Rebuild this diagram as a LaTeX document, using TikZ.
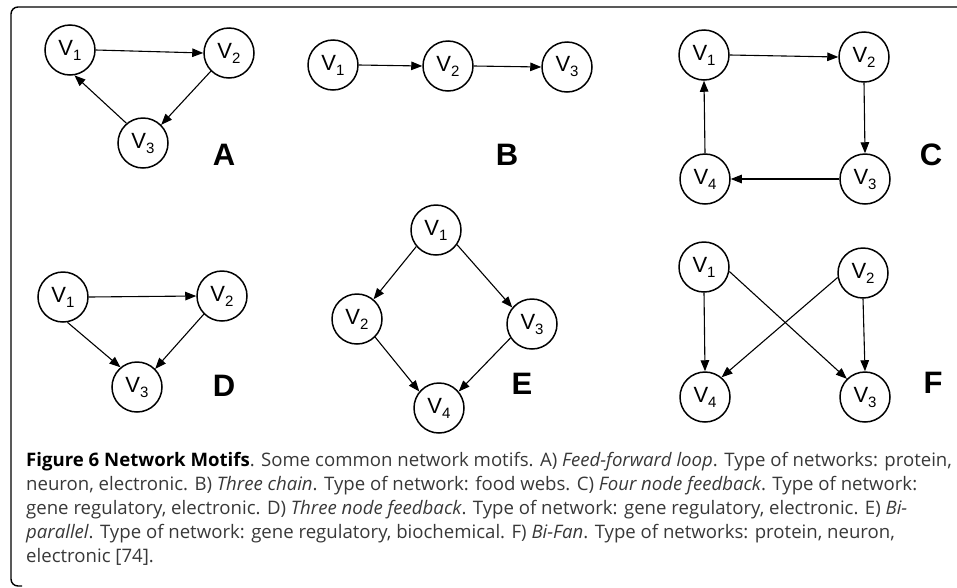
\documentclass[tikz,border=0pt]{standalone}
\usepackage{fontspec}
\setmainfont{Liberation Sans}
\newfontfamily\capfont{Open Sans}
\usetikzlibrary{arrows.meta}

\newcommand{\vlab}[1]{V\raisebox{-5pt}{\fontsize{15}{15}\selectfont #1}}

\tikzset{
  vertex/.style={circle,draw,line width=1.5pt,minimum size=50pt,inner sep=0pt,
    font=\fontsize{22}{22}\selectfont},
  edge/.style={line width=1.1pt,-{Triangle[length=11pt,width=8.5pt]}},
  motif/.style={font=\fontsize{31}{31}\selectfont\bfseries},
}

\begin{document}
\begin{tikzpicture}[x=1pt,y=-1pt]
  \useasboundingbox (0,0) rectangle (957,587);
  % frame
  \draw[line width=1.4pt,rounded corners=7pt]
    (957,7) -- (11,7) -- (11,586) -- (22,586);

  % vertices: name/x/y/index
  \foreach \n/\x/\y/\i in {a1/70/50/1, a2/229/53/2, a3/143/143/3,
      b1/333/65/1, b2/448/66/2, b3/567/67/3,
      c1/704/55/1, c2/864/57/2, c3/865/179/3, c4/705/179/4,
      d1/63/297/1, d2/222/296/2, d3/137/387/3,
      e1/436/230/1, e2/357/319/2, e3/532/324/3, e4/439/408/4,
      f1/704/267/1, f2/863/273/2, f3/865/397/3, f4/705/397/4}
    \node[vertex] (\n) at (\x,\y) {\vlab{\i}};

  % motif letters
  \node[motif] (la) at (224,155) {A};
  \node[motif] (lb) at (507,155) {B};
  \node[motif] (lc) at (931,155) {C};
  \node[motif] (ld) at (224,386) {D};
  \node[motif] (le) at (522,384) {E};
  \node[motif] (lf) at (933,383) {F};

  % A) feed-forward loop
  \draw[edge] (a1.east) -- (a2.west);
  \draw[edge] (a2.south west) -- (a3.north east);
  \draw[edge] (a3.130) -- (a1.-80);
  % B) three chain
  \draw[edge] (b1.east) -- (b2.west);
  \draw[edge] (b2.east) -- (b3.west);
  % C) four node feedback
  \draw[edge] (c1.east) -- (c2.west);
  \draw[edge] (c2.south) -- (c3.north);
  \draw[edge] (c3.west) -- (c4.east);
  \draw[edge] (c4.north) -- (c1.south);
  % D) three node feedback
  \draw[edge] (d1.east) -- (d2.west);
  \draw[edge] (d1.-80) -- (d3.130);
  \draw[edge] (d2.south west) -- (d3.north east);
  % E) bi-parallel
  \draw[edge] (e1.220) -- (e2.50);
  \draw[edge] (e1.-35) -- (e3.140);
  \draw[edge] (e2.south east) -- (e4.140);
  \draw[edge] (e3.213) -- (e4.40);
  % F) bi-fan
  \draw[edge] (f1.south) -- (f4.north);
  \draw[edge] (f1.-10) -- (f3.north west);
  \draw[edge] (f2.190) -- (f4.50);
  \draw[edge] (f2.south) -- (f3.north);

  % caption
  \node[anchor=north west,inner sep=0pt,align=left,text=black!78,
    font=\capfont\fontsize{18.6}{24}\selectfont] (cap) at (26,452)
    {{\color{black}\bfseries Figure 6 Network Motifs}. Some common network motifs. A) \textit{Feed-forward loop}. Type of networks: protein,\\
     neuron, electronic. B) \textit{Three chain}. Type of network: food webs. C) \textit{Four node feedback}. Type of network:\\
     gene regulatory, electronic. D) \textit{Three node feedback}. Type of network: gene regulatory, electronic. E) \textit{Bi-}\\
     \textit{parallel}. Type of network: gene regulatory, biochemical. F) \textit{Bi-Fan}. Type of networks: protein, neuron,\\
     electronic [74].};
\end{tikzpicture}
\end{document}
